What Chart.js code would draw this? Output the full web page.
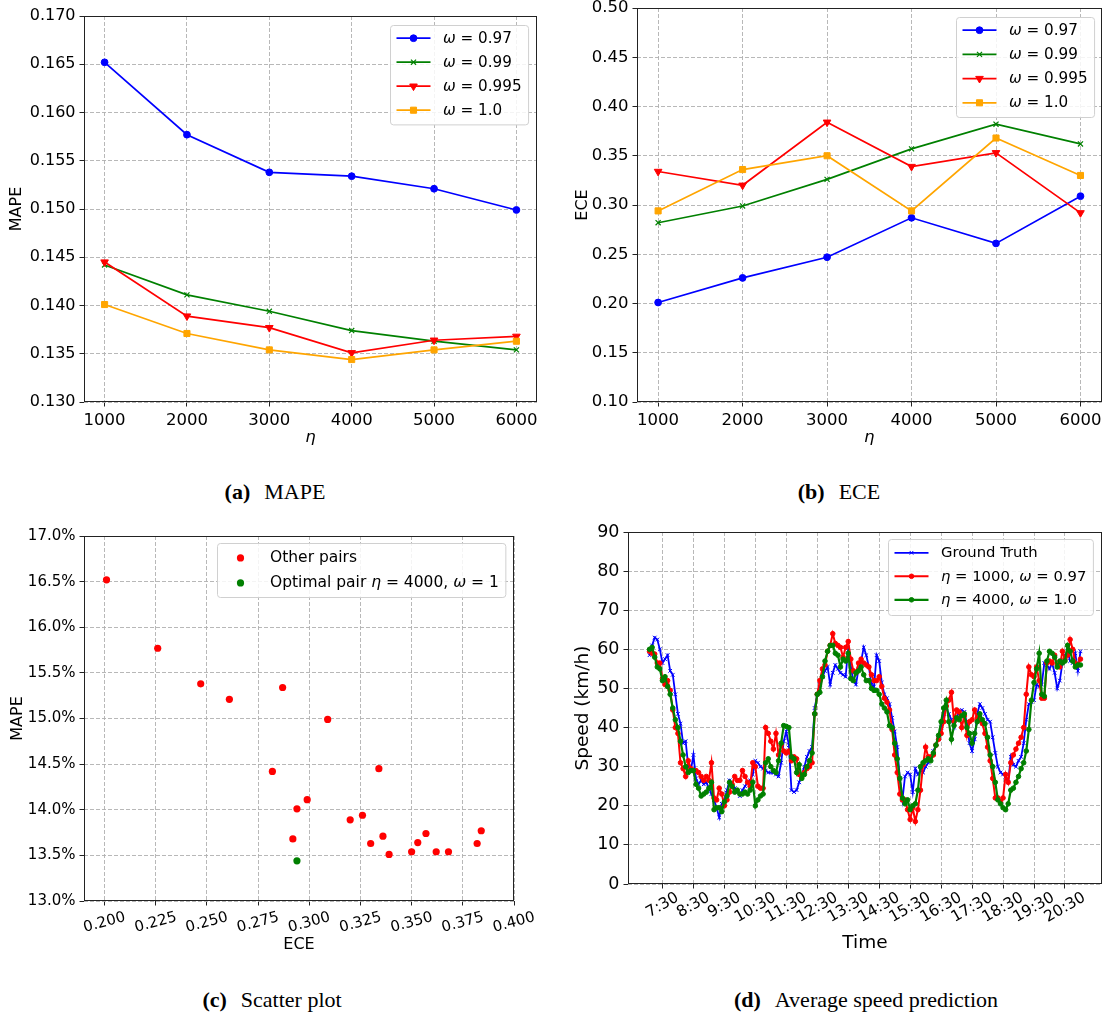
<!DOCTYPE html>
<html>
<head>
<meta charset="utf-8">
<script src="https://cdn.jsdelivr.net/npm/chart.js@4.4.0/dist/chart.umd.min.js"></script>
<style>
  body { margin: 0; background: #fff; width: 1107px; height: 1017px; position: relative; overflow: hidden; }
  canvas { position: absolute; }
  .cap { position: absolute; font-family: "Liberation Serif", serif; font-size: 22px; line-height: 22px; color: #000; white-space: nowrap; transform: translateX(-50%); }
  .cap b { margin-right: 14px; }
</style>
</head>
<body>
<canvas id="chartA"></canvas>
<canvas id="chartB"></canvas>
<canvas id="chartC"></canvas>
<canvas id="chartD"></canvas>
<div class="cap" style="left:275px; top:481px;"><b>(a)</b>MAPE</div>
<div class="cap" style="left:839px; top:481px;"><b>(b)</b>ECE</div>
<div class="cap" style="left:272px; top:989px;"><b>(c)</b>Scatter plot</div>
<div class="cap" style="left:866px; top:989px;"><b>(d)</b>Average speed prediction</div>
<script>
// --- data ---
const etaValues = [1000, 2000, 3000, 4000, 5000, 6000];
const omegaLabels = ['ω = 0.97', 'ω = 0.99', 'ω = 0.995', 'ω = 1.0'];

const mape097 = [0.1652, 0.1577, 0.1538, 0.1534, 0.1521, 0.1499];
const mape099 = [0.1442, 0.1411, 0.1394, 0.1374, 0.1363, 0.1354];
const mape0995 = [0.1445, 0.1389, 0.1377, 0.1351, 0.1364, 0.1368];
const mape100 = [0.1401, 0.1371, 0.1354, 0.1344, 0.1354, 0.1363];

const ece097 = [0.201, 0.226, 0.247, 0.287, 0.261, 0.309];
const ece099 = [0.282, 0.299, 0.326, 0.357, 0.382, 0.362];
const ece0995 = [0.334, 0.320, 0.384, 0.339, 0.353, 0.292];
const ece100 = [0.294, 0.336, 0.350, 0.294, 0.368, 0.330];

const mapeTicks = [0.130, 0.135, 0.140, 0.145, 0.150, 0.155, 0.160, 0.165, 0.170];
const eceTicks = [0.10, 0.15, 0.20, 0.25, 0.30, 0.35, 0.40, 0.45, 0.50];
const scatterXTicks = [0.200, 0.225, 0.250, 0.275, 0.300, 0.325, 0.350, 0.375, 0.400];
const scatterYTicks = [13.0, 13.5, 14.0, 14.5, 15.0, 15.5, 16.0, 16.5, 17.0];
const optimalEta = 4000; // with omega = 1.0

// speed, one sample every 5 minutes from 7:05 to 21:00
const speedStart = '7:05';
const speedStepMin = 5;
const timeTickLabels = ['7:30', '8:30', '9:30', '10:30', '11:30', '12:30', '13:30', '14:30',
  '15:30', '16:30', '17:30', '18:30', '19:30', '20:30'];
const speedTicks = [0, 10, 20, 30, 40, 50, 60, 70, 80, 90];

const groundTruth = [
  58.5, 61, 63, 62.5, 60, 56.5, 57.5, 58.5, 54.5, 53.5, 48.5, 43.5,
  41, 36, 36.5, 30, 29, 33, 27, 25.5, 26.5, 25.5, 26, 24.5,
  23, 21.5, 19.5, 17, 20.5, 21.5, 24, 26.5, 25.5, 24.5, 23.5, 22.5,
  24, 25, 26, 26.5, 28, 31.5, 31, 30, 29.5, 29, 28.5, 28.5,
  28.5, 28, 27.5, 31, 36.5, 39, 35.5, 24, 23.5, 24, 26, 28,
  30, 32.5, 34, 35, 45, 48.5, 51, 53, 54.5, 55.5, 51, 54,
  56, 55, 54, 53.5, 53, 60.5, 55.5, 52, 51, 55, 57, 60.5,
  58.5, 55.5, 51, 50.5, 58.5, 57, 51.5, 48.5, 47.5, 46, 42.5, 39,
  35, 27, 21.5, 27.5, 28.5, 28, 23.5, 29.5, 28, 29, 28.5, 30,
  31, 32.5, 34, 35.5, 37, 40, 43.5, 45, 43.5, 42, 40, 42.5,
  44, 44.5, 44, 41, 36, 34, 37, 43.5, 46, 45, 43.5, 42,
  41.5, 37.5, 33.5, 30, 28.5, 28, 27.5, 26, 32.5, 30.5, 30, 31.5,
  32.5, 36, 42, 46, 46.5, 47, 51, 50.5, 51, 56.5, 56, 55,
  56.5, 54, 50, 52, 56.5, 58.5, 59.5, 57, 56.5, 59, 54.5, 59.5
];
const pred1000 = [
  59.5, 59, 58.8, 56.5, 56.5, 52.5, 51, 52, 49.5, 44.5, 40, 38.5,
  31, 29.5, 27.5, 31.5, 29.5, 29, 29, 28.5, 27.5, 26.5, 27.5, 26.5,
  31, 22, 21.5, 24.5, 23, 20, 21.5, 23.5, 25.5, 27.5, 26.5, 26.5,
  29, 27.5, 26, 25, 31, 30, 25, 24.5, 24.5, 40, 38.5, 36.5,
  34.5, 38.5, 33, 35.5, 34, 33.5, 34, 31.5, 32.5, 32, 28, 27.5,
  28.5, 29.5, 30, 31, 43.5, 48.5, 52, 55, 56, 59.5, 61, 64,
  61.5, 61, 60.5, 58, 60.5, 62, 57.5, 54.5, 54, 56.5, 57.5, 56.5,
  56, 55.5, 53.5, 52, 52, 53, 50.5, 47.5, 46.5, 44.5, 39.5, 33,
  28.5, 23, 21.5, 21.5, 19, 16.5, 19.5, 16, 19, 24, 30.5, 35,
  32.5, 32.5, 33, 35.5, 37, 38.5, 41.5, 45.5, 47, 49, 41.5, 44.5,
  44, 40, 43, 38, 41.5, 42, 44.5, 42.5, 42, 41, 38.5, 35,
  31.5, 27, 22, 22, 21, 22, 28, 26, 31, 33, 34.5, 36,
  37.5, 40, 48.5, 55.5, 53.5, 53, 55.5, 52, 47.5, 47.5, 56.5, 57,
  56.5, 58.5, 56, 55.5, 59.5, 57.5, 58.5, 62.5, 60, 56.5, 56, 57.5
];
const pred4000 = [
  60, 60.5, 58, 55.5, 55, 52, 53, 50.5, 48.5, 45, 42, 40,
  36.5, 33, 30, 28.5, 29, 29, 25.5, 24.5, 22.5, 23, 23.5, 24.5,
  26, 19, 19.5, 19.5, 18.5, 21, 22.5, 26, 25, 23.5, 24, 23,
  23, 23.5, 23, 24, 26, 20, 21.5, 22.5, 23, 31, 32, 30,
  29, 28.5, 31.5, 36, 40.5, 40.3, 40, 32.5, 32, 28.5, 30.5, 27,
  28, 30, 31.5, 33.5, 43.5, 48.5, 49, 53, 57, 59.5, 61, 61,
  59, 58.5, 55.5, 57.5, 57, 59, 52.5, 52, 54, 54.5, 55.5, 53.5,
  52, 52, 50, 49.5, 49.5, 48.5, 46, 45, 44, 40.5, 40, 36,
  32, 27, 22, 20.5, 21.5, 19, 20, 20.5, 24, 30, 31, 31.5,
  32, 31.5, 33.5, 35.5, 38, 41.5, 45, 47, 41.5, 37, 40.5, 42.5,
  42, 43, 43.5, 40, 38.5, 36, 38.5, 41.5, 43.5, 42, 41, 37.5,
  33, 30, 26, 21.5, 20.5, 19.5, 19, 20.5, 24, 24.5, 26, 27.5,
  29.5, 31, 34, 39.5, 47, 51.5, 55, 59, 48.5, 48, 57, 59.5,
  59, 58, 55.5, 57, 56.5, 57, 61, 59.5, 57, 55.5, 56, 56
];

// --- setup ---
const FONT = 'DejaVu Sans';
Chart.defaults.font.family = FONT;
Chart.defaults.color = '#000';
const GRID = 'rgba(176,176,176,0.9)';

function toHours(t) {
  const [h, m] = t.split(':').map(Number);
  return h + m / 60;
}

// canvas covers the plot box plus room for the axes
function placeCanvas(id, plot, pad) {
  const c = document.getElementById(id);
  const w = plot.r - plot.l + pad.l + pad.r;
  const h = plot.b - plot.t + pad.t + pad.b;
  c.width = w;
  c.height = h;
  c.style.left = (plot.l - pad.l) + 'px';
  c.style.top = (plot.t - pad.t) + 'px';
  c.style.width = w + 'px';
  c.style.height = h + 'px';
  return c;
}

function makeScale(o) {
  return {
    type: 'linear',
    min: o.min,
    max: o.max,
    afterBuildTicks: s => { s.ticks = o.ticks.map(v => ({ value: v })); },
    afterFit: s => {
      if (o.width) s.width = o.width;
      if (o.height) s.height = o.height;
      s.paddingLeft = s.paddingRight = s.paddingTop = s.paddingBottom = 0;
    },
    grid: { color: GRID, lineWidth: 1, tickColor: '#222', tickLength: 4.5, tickWidth: 1 },
    border: { display: false, dash: [4, 2] },
    ticks: {
      display: o.showLabels !== false, autoSkip: false, maxRotation: 0, minRotation: 0,
      padding: 4, font: { size: o.fontSize }, color: '#000', callback: o.fmt
    },
    title: {
      display: true, text: o.title, color: '#000',
      font: { size: o.titleSize, style: o.italic ? 'italic' : 'normal' },
      padding: { top: o.titlePad, bottom: o.titlePad }
    }
  };
}

// full box around the plot, like matplotlib spines
const framePlugin = {
  id: 'frame',
  afterDraw(chart) {
    const { ctx, chartArea: a } = chart;
    ctx.save();
    ctx.strokeStyle = '#222';
    ctx.lineWidth = 1;
    const l = Math.round(a.left) + 0.5, t = Math.round(a.top) + 0.5;
    const r = Math.round(a.right) - 0.5, b = Math.round(a.bottom) - 0.5;
    ctx.strokeRect(l, t, r - l, b - t);
    ctx.restore();
  }
};

function drawMixed(ctx, text, x, y, fs, measureOnly) {
  // greek letters in italic, like mathtext
  let w = 0;
  const runs = text.match(/[ωη]|[^ωη]+/g) || [];
  runs.forEach(run => {
    ctx.font = (/[ωη]/.test(run) ? 'italic ' : '') + fs + 'px ' + FONT;
    if (!measureOnly) ctx.fillText(run, x + w, y);
    w += ctx.measureText(run).width;
  });
  return w;
}

function roundRect(ctx, x, y, w, h, r) {
  ctx.beginPath();
  ctx.moveTo(x + r, y);
  ctx.lineTo(x + w - r, y);
  ctx.arcTo(x + w, y, x + w, y + r, r);
  ctx.lineTo(x + w, y + h - r);
  ctx.arcTo(x + w, y + h, x + w - r, y + h, r);
  ctx.lineTo(x + r, y + h);
  ctx.arcTo(x, y + h, x, y + h - r, r);
  ctx.lineTo(x, y + r);
  ctx.arcTo(x, y, x + r, y, r);
  ctx.closePath();
}

// legend inside the upper right corner of the plot
const boxLegend = {
  id: 'boxLegend',
  afterDraw(chart, args, opts) {
    if (!opts.fontSize) return;
    const ctx = chart.ctx, a = chart.chartArea, fs = opts.fontSize;
    const sets = chart.data.datasets;
    ctx.save();
    const tw = Math.max(...sets.map(ds => drawMixed(ctx, ds.label, 0, 0, fs, true)));
    const padL = 6, handle = 34, gap = 12.5, padR = 7;
    const bw = padL + handle + gap + tw + padR;
    const bh = opts.first + (sets.length - 1) * opts.row + opts.last;
    const x0 = Math.round(a.right - opts.right - bw) + 0.5;
    const y0 = Math.round(a.top + opts.top) + 0.5;
    roundRect(ctx, x0, y0, bw, bh, 3);
    ctx.fillStyle = 'rgba(255,255,255,0.85)';
    ctx.fill();
    ctx.strokeStyle = '#d0d0d0';
    ctx.lineWidth = 1;
    ctx.stroke();
    sets.forEach((ds, i) => {
      const cy = y0 + opts.first + i * opts.row;
      const hx = x0 + padL;
      if (ds.showLine !== false) {
        ctx.strokeStyle = ds.borderColor;
        ctx.lineWidth = ds.borderWidth;
        ctx.beginPath();
        ctx.moveTo(hx, cy);
        ctx.lineTo(hx + handle, cy);
        ctx.stroke();
      }
      ctx.fillStyle = ds.pointBackgroundColor;
      ctx.strokeStyle = ds.pointBorderColor;
      ctx.lineWidth = ds.pointBorderWidth;
      Chart.helpers.drawPoint(ctx, {
        pointStyle: ds.pointStyle, radius: ds.pointRadius,
        rotation: ds.pointRotation || 0, borderWidth: ds.pointBorderWidth
      }, hx + handle / 2, cy);
      ctx.fillStyle = '#000';
      ctx.textBaseline = 'middle';
      ctx.textAlign = 'left';
      drawMixed(ctx, ds.label, hx + handle + gap, cy + 0.5, fs, false);
    });
    ctx.restore();
  }
};

// rotated x tick labels centred on their ticks
const slantTicks = {
  id: 'slantTicks',
  afterDraw(chart, args, opts) {
    if (!opts.values) return;
    const sc = chart.scales.x, ctx = chart.ctx;
    const ang = opts.angle * Math.PI / 180;
    ctx.save();
    ctx.font = opts.fontSize + 'px ' + FONT;
    ctx.fillStyle = '#000';
    ctx.textAlign = 'center';
    ctx.textBaseline = 'middle';
    opts.values.forEach((v, i) => {
      const txt = opts.labels[i];
      const w = ctx.measureText(txt).width, h = opts.fontSize * 0.9;
      const hh = w * Math.sin(ang) + h * Math.cos(ang);
      const x = sc.getPixelForValue(v);
      const y = chart.chartArea.bottom + opts.offset + hh / 2;
      ctx.save();
      ctx.translate(x, y);
      ctx.rotate(-ang);
      ctx.fillText(txt, 0, 0);
      ctx.restore();
    });
    ctx.restore();
  }
};

const omegaStyles = [
  { color: '#0000ff', point: 'circle', r: 3.4, rot: 0, pbw: 1 },
  { color: '#008000', point: 'crossRot', r: 3.6, rot: 0, pbw: 1.2 },
  { color: '#ff0000', point: 'triangle', r: 4.4, rot: 180, pbw: 1 },
  { color: '#ffa500', point: 'rect', r: 4.3, rot: 0, pbw: 1 }
];

function lineSet(label, xs, ys, st, order, lw) {
  return {
    label,
    data: xs.map((x, i) => ({ x, y: ys[i] })),
    borderColor: st.color,
    backgroundColor: st.color,
    borderWidth: lw,
    pointStyle: st.point,
    pointRadius: st.r,
    pointRotation: st.rot,
    pointBorderWidth: st.pbw,
    pointBackgroundColor: st.color,
    pointBorderColor: st.color,
    tension: 0,
    order
  };
}

const baseOptions = {
  responsive: false,
  animation: false,
  devicePixelRatio: 1,
  events: [],
  plugins: { legend: { display: false }, tooltip: { enabled: false } }
};

// --- (a) MAPE against eta ---
const mapeSeries = [mape097, mape099, mape0995, mape100];
const plotA = { l: 84, t: 16, r: 537, b: 402 };
const padA = { l: 84, t: 16, r: 13, b: 53 };
placeCanvas('chartA', plotA, padA);
new Chart(document.getElementById('chartA'), {
  type: 'line',
  data: { datasets: mapeSeries.map((ys, i) => lineSet(omegaLabels[i], etaValues, ys, omegaStyles[i], 4 - i, 1.7)) },
  options: Object.assign({}, baseOptions, {
    layout: { padding: { left: 0, top: padA.t, right: padA.r, bottom: 0 } },
    scales: {
      x: makeScale({ min: 750, max: 6250, ticks: etaValues, height: padA.b, fontSize: 16.5, fmt: v => String(v),
        title: 'η', italic: true, titleSize: 16.5, titlePad: 7 }),
      y: makeScale({ min: 0.130, max: 0.170, ticks: mapeTicks, width: padA.l, fontSize: 16, fmt: v => v.toFixed(3),
        title: 'MAPE', titleSize: 16, titlePad: 7.5 })
    },
    plugins: Object.assign({}, baseOptions.plugins, {
      boxLegend: { fontSize: 15.2, right: 9, top: 9, first: 12.7, row: 24, last: 14.7 }
    })
  }),
  plugins: [framePlugin, boxLegend]
});

// --- (b) ECE against eta ---
const eceSeries = [ece097, ece099, ece0995, ece100];
const plotB = { l: 637, t: 8, r: 1102, b: 402 };
const padB = { l: 72, t: 8, r: 5, b: 53 };
placeCanvas('chartB', plotB, padB);
new Chart(document.getElementById('chartB'), {
  type: 'line',
  data: { datasets: eceSeries.map((ys, i) => lineSet(omegaLabels[i], etaValues, ys, omegaStyles[i], 4 - i, 1.7)) },
  options: Object.assign({}, baseOptions, {
    layout: { padding: { left: 0, top: padB.t, right: padB.r, bottom: 0 } },
    scales: {
      x: makeScale({ min: 750, max: 6250, ticks: etaValues, height: padB.b, fontSize: 16.5, fmt: v => String(v),
        title: 'η', italic: true, titleSize: 16.5, titlePad: 7 }),
      y: makeScale({ min: 0.10, max: 0.50, ticks: eceTicks, width: padB.l, fontSize: 16.5, fmt: v => v.toFixed(2),
        title: 'ECE', titleSize: 16, titlePad: 8.5 })
    },
    plugins: Object.assign({}, baseOptions.plugins, {
      boxLegend: { fontSize: 15.2, right: 8, top: 9, first: 12.7, row: 24.2, last: 14.7 }
    })
  }),
  plugins: [framePlugin, boxLegend]
});

// --- (c) scatter of ECE against MAPE ---
const otherPairs = [];
const optimalPair = [];
mapeSeries.forEach((ys, s) => {
  etaValues.forEach((eta, i) => {
    const pt = { x: eceSeries[s][i], y: ys[i] * 100 };
    if (s === 3 && eta === optimalEta) optimalPair.push(pt); else otherPairs.push(pt);
  });
});
const plotC = { l: 84, t: 536, r: 514, b: 901 };
const padC = { l: 84, t: 16, r: 36, b: 61 };
placeCanvas('chartC', plotC, padC);
new Chart(document.getElementById('chartC'), {
  type: 'scatter',
  data: {
    datasets: [
      { label: 'Other pairs', data: otherPairs, showLine: false, pointStyle: 'circle', pointRadius: 3.6,
        pointBackgroundColor: '#ff0000', pointBorderColor: '#ff0000', pointBorderWidth: 0, order: 2 },
      { label: 'Optimal pair η = 4000, ω = 1', data: optimalPair, showLine: false, pointStyle: 'circle', pointRadius: 3.6,
        pointBackgroundColor: '#008000', pointBorderColor: '#008000', pointBorderWidth: 0, order: 1 }
    ]
  },
  options: Object.assign({}, baseOptions, {
    layout: { padding: { left: 0, top: padC.t, right: padC.r, bottom: 0 } },
    scales: {
      x: makeScale({ min: 0.19, max: 0.40, ticks: scatterXTicks, height: padC.b, fontSize: 15, showLabels: false,
        title: 'ECE', titleSize: 16, titlePad: 8 }),
      y: makeScale({ min: 13, max: 17, ticks: scatterYTicks, width: padC.l, fontSize: 15, fmt: v => v.toFixed(1) + '%',
        title: 'MAPE', titleSize: 16, titlePad: 8 })
    },
    plugins: Object.assign({}, baseOptions.plugins, {
      boxLegend: { fontSize: 15.5, right: 9, top: 7, first: 14.4, row: 25, last: 14.6 },
      slantTicks: { values: scatterXTicks, labels: scatterXTicks.map(v => v.toFixed(3)), angle: 15, fontSize: 15, offset: 9.5 }
    })
  }),
  plugins: [framePlugin, boxLegend, slantTicks]
});

// --- (d) average speed over the day ---
const t0 = toHours(speedStart);
const speedTimes = groundTruth.map((_, i) => t0 + i * speedStepMin / 60);
const tSpan = speedTimes[speedTimes.length - 1] - t0;
const timeTickVals = timeTickLabels.map(toHours);
const plotD = { l: 628, t: 532, r: 1102, b: 884 };
const padD = { l: 63, t: 12, r: 5, b: 78 };
placeCanvas('chartD', plotD, padD);
const speedStyles = [
  { color: '#0000ff', point: 'crossRot', r: 2.6, rot: 0, pbw: 1 },
  { color: '#ff0000', point: 'circle', r: 2.3, rot: 0, pbw: 1 },
  { color: '#008000', point: 'circle', r: 2.3, rot: 0, pbw: 1 }
];
new Chart(document.getElementById('chartD'), {
  type: 'line',
  data: {
    datasets: [
      lineSet('Ground Truth', speedTimes, groundTruth, speedStyles[0], 3, 1.8),
      lineSet('η = 1000, ω = 0.97', speedTimes, pred1000, speedStyles[1], 2, 2),
      lineSet('η = 4000, ω = 1.0', speedTimes, pred4000, speedStyles[2], 1, 2.2)
    ]
  },
  options: Object.assign({}, baseOptions, {
    layout: { padding: { left: 0, top: padD.t, right: padD.r, bottom: 0 } },
    scales: {
      x: makeScale({ min: t0 - 0.05 * tSpan, max: t0 + 1.05 * tSpan, ticks: timeTickVals, height: padD.b, fontSize: 15.5,
        showLabels: false, title: 'Time', titleSize: 18.5, titlePad: 8 }),
      y: makeScale({ min: 0, max: 90, ticks: speedTicks, width: padD.l, fontSize: 17.5, fmt: v => String(v),
        title: 'Speed (km/h)', titleSize: 18.5, titlePad: 7 })
    },
    plugins: Object.assign({}, baseOptions.plugins, {
      boxLegend: { fontSize: 14.8, right: 9, top: 7, first: 13.3, row: 23.5, last: 15.7 },
      slantTicks: { values: timeTickVals, labels: timeTickLabels, angle: 30, fontSize: 15.5, offset: 6.5 }
    })
  }),
  plugins: [framePlugin, boxLegend, slantTicks]
});
</script>
</body>
</html>
